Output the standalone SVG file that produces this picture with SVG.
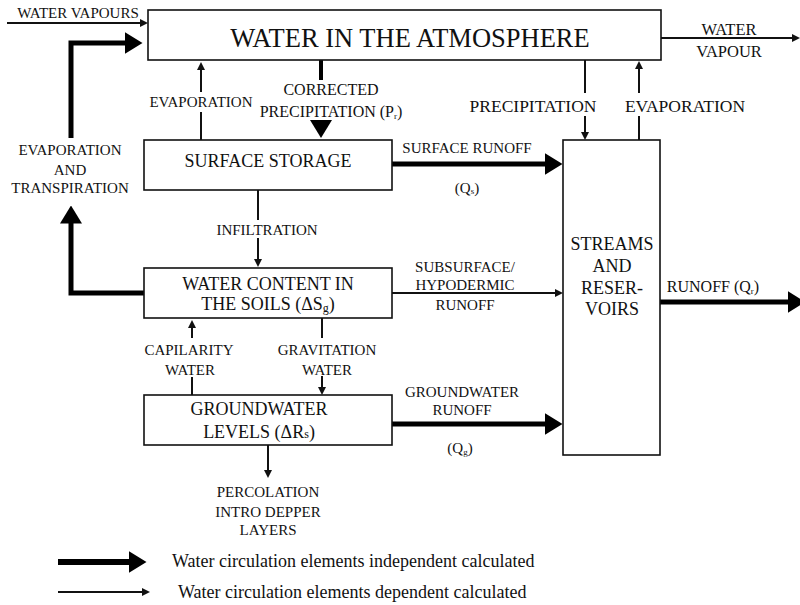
<svg xmlns="http://www.w3.org/2000/svg" width="800" height="605" viewBox="0 0 800 605" font-family="'Liberation Serif', 'Times New Roman', Times, serif">
<style>
text{font-family:'Liberation Serif','Times New Roman',Times,serif;fill:#111;}
.lbl{font-size:15px;text-anchor:middle;}
.lbl2{font-size:17.5px;text-anchor:middle;}
.box{font-size:18px;text-anchor:middle;}
.leg{font-size:18px;}
.sub{font-size:9px;}
rect{fill:#fff;stroke:#111;stroke-width:1.6;}
.thin{stroke:#111;stroke-width:2;fill:none;marker-end:url(#t);}
.thinn{stroke:#111;stroke-width:2;fill:none;}
.thick{stroke:#000;stroke-width:5;fill:none;marker-end:url(#b);}
</style>
<defs>
<marker id="t" viewBox="0 0 8 8" refX="0" refY="4" markerWidth="8" markerHeight="8" markerUnits="userSpaceOnUse" orient="auto"><path d="M0,0 L8,4 L0,8 z" fill="#111"/></marker>
<marker id="b" viewBox="0 0 18 22" refX="0.5" refY="11" markerWidth="18" markerHeight="22" markerUnits="userSpaceOnUse" orient="auto"><path d="M0,0 L18,11 L0,22 z" fill="#000"/></marker>
</defs>
<rect width="800" height="605" style="fill:#fff;stroke:none"/>

<g id="connectors">
<line class="thin" x1="7" y1="23" x2="140" y2="23"/>
<path class="thick" d="M71,138 V43 H125"/>
<line class="thinn" x1="201" y1="140" x2="201" y2="112"/>
<line class="thin" x1="201" y1="92" x2="201" y2="70"/>
<line x1="321" y1="60" x2="321" y2="80" stroke="#000" stroke-width="4"/>
<polygon points="310,120 332,120 321,138" fill="#000"/>
<line class="thinn" x1="585" y1="60" x2="585" y2="93"/>
<line class="thin" x1="585" y1="116" x2="585" y2="132"/>
<line class="thinn" x1="639" y1="140" x2="639" y2="116"/>
<line class="thin" x1="639" y1="93" x2="639" y2="69"/>
<line class="thin" x1="661" y1="38" x2="792" y2="38"/>
<line class="thick" x1="392" y1="164" x2="545" y2="164"/>
<line class="thinn" x1="258" y1="190" x2="258" y2="220"/>
<line class="thin" x1="258" y1="238" x2="258" y2="259"/>
<path class="thick" d="M144,293 H71 V223"/>
<line class="thin" x1="392" y1="293" x2="555" y2="293"/>
<line class="thick" x1="660" y1="302" x2="788" y2="302"/>
<line class="thinn" x1="192" y1="395" x2="192" y2="377"/>
<line class="thin" x1="192" y1="338" x2="192" y2="328"/>
<line class="thinn" x1="322" y1="318" x2="322" y2="338"/>
<line class="thin" x1="322" y1="376" x2="322" y2="387"/>
<line class="thick" x1="392" y1="424" x2="545" y2="424"/>
<line class="thin" x1="268" y1="445" x2="268" y2="470"/>
</g>

<g id="atmosphere">
<rect x="148" y="10" width="513" height="50"/>
<text x="410" y="47" style="font-size:26.5px;text-anchor:middle">WATER IN THE ATMOSPHERE</text>
</g>

<g id="surface-storage">
<rect x="144" y="140" width="248" height="50"/>
<text class="box" x="268" y="167">SURFACE STORAGE</text>
</g>

<g id="soil-water">
<rect x="144" y="268" width="248" height="50"/>
<text class="box" x="268" y="290">WATER CONTENT IN</text>
<text class="box" x="268" y="310">THE SOILS (ΔS<tspan style="font-size:12px" dy="2">g</tspan><tspan dy="-2">)</tspan></text>
</g>

<g id="groundwater">
<rect x="144" y="395" width="248" height="50"/>
<text class="box" x="259" y="415">GROUNDWATER</text>
<text class="box" x="259" y="438">LEVELS (ΔR<tspan style="font-size:12px">s</tspan>)</text>
</g>

<g id="streams">
<rect x="563" y="140" width="97" height="315"/>
<text class="box" x="612" y="250">STREAMS</text>
<text class="box" x="612" y="272">AND</text>
<text class="box" x="612" y="294">RESER-</text>
<text class="box" x="612" y="315">VOIRS</text>
</g>

<g id="labels">
<text class="lbl" x="78" y="18">WATER VAPOURS</text>
<text class="lbl" x="70" y="155">EVAPORATION</text>
<text class="lbl" x="70" y="175">AND</text>
<text class="lbl" x="70" y="193">TRANSPIRATION</text>
<text class="lbl" x="201" y="107">EVAPORATION</text>
<text class="lbl" x="331" y="95" style="font-size:16px">CORRECTED</text>
<text class="lbl" x="331" y="117" style="font-size:16px">PRECIPITATION (P<tspan class="sub" dy="2">r</tspan><tspan dy="-2">)</tspan></text>
<text class="lbl2" x="533" y="112">PRECIPITATION</text>
<text class="lbl2" x="685" y="112">EVAPORATION</text>
<text class="lbl" x="729" y="35" style="font-size:16.5px">WATER</text>
<text class="lbl" x="729" y="57" style="font-size:16.5px">VAPOUR</text>
<text class="lbl" x="467" y="153">SURFACE RUNOFF</text>
<text class="lbl" x="467" y="193">(Q<tspan class="sub" dy="1">s</tspan><tspan dy="-1">)</tspan></text>
<text class="lbl" x="267" y="235">INFILTRATION</text>
<text class="lbl" x="465" y="272">SUBSURFACE/</text>
<text class="lbl" x="465" y="290">HYPODERMIC</text>
<text class="lbl" x="465" y="310">RUNOFF</text>
<text class="lbl" x="713" y="292" style="font-size:16px">RUNOFF (Q<tspan class="sub" dy="2">r</tspan><tspan dy="-2">)</tspan></text>
<text class="lbl" x="189" y="355">CAPILARITY</text>
<text class="lbl" x="190" y="375">WATER</text>
<text class="lbl" x="327" y="355">GRAVITATION</text>
<text class="lbl" x="327" y="375">WATER</text>
<text class="lbl" x="462" y="397">GROUNDWATER</text>
<text class="lbl" x="462" y="415">RUNOFF</text>
<text class="lbl" x="460" y="453">(Q<tspan class="sub" dy="2">g</tspan><tspan dy="-2">)</tspan></text>
<text class="lbl" x="268" y="497">PERCOLATION</text>
<text class="lbl" x="268" y="517">INTRO DEPPER</text>
<text class="lbl" x="268" y="535">LAYERS</text>
</g>

<g id="legend">
<line x1="58" y1="562" x2="129" y2="562" stroke="#000" stroke-width="6" marker-end="url(#b)"/>
<text class="leg" x="172" y="567">Water circulation elements independent calculated</text>
<line class="thin" x1="58" y1="592" x2="142" y2="592"/>
<text class="leg" x="178" y="598">Water circulation elements dependent calculated</text>
</g>
</svg>
